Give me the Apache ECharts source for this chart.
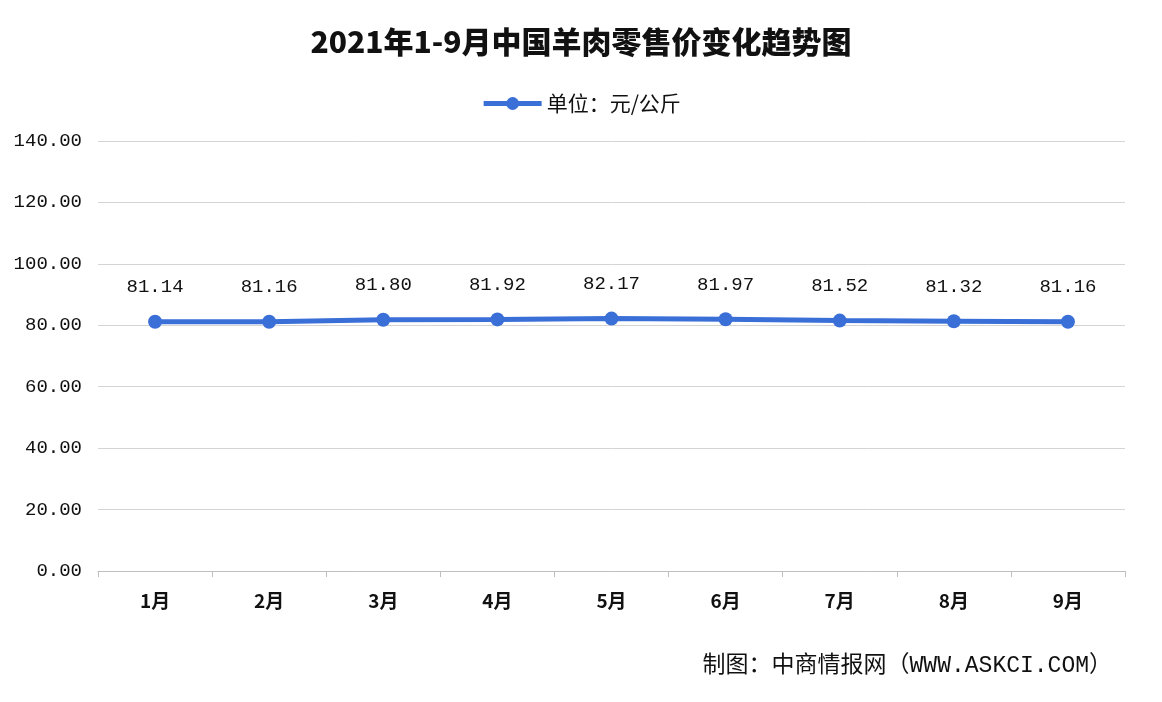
<!DOCTYPE html>
<html>
<head>
<meta charset="utf-8">
<script src="https://cdn.jsdelivr.net/npm/echarts@6/dist/echarts.min.js"></script>
<style>html,body{margin:0;padding:0;background:#fff}#c{width:1162px;height:702px}</style>
</head>
<body>
<div id="c"></div>
<script>
const categories = ['1月','2月','3月','4月','5月','6月','7月','8月','9月'];
const prices = [81.14, 81.16, 81.80, 81.92, 82.17, 81.97, 81.52, 81.32, 81.16];
const seriesName = '单位：元/公斤';
const titleText = '2021年1-9月中国羊肉零售价变化趋势图';
const sourceText = '制图：中商情报网（WWW.ASKCI.COM）';

const chart = echarts.init(document.getElementById('c'));
chart.setOption({
  backgroundColor: '#ffffff',
  animation: false,
  title: {
    text: titleText, left: 'center', top: 22,
    textStyle: {fontFamily: 'Noto Sans CJK SC', fontWeight: 900, fontSize: 30, color: '#111'}
  },
  legend: {
    top: 88, left: 'center', itemWidth: 58, itemHeight: 16, itemGap: 4,
    lineStyle: {width: 5},
    textStyle: {fontFamily: 'Noto Sans CJK SC', fontSize: 21, color: '#111'},
    data: [seriesName]
  },
  grid: {left: 98, right: 37, top: 141, bottom: 131, containLabel: false},
  xAxis: {
    type: 'category', data: categories, boundaryGap: true,
    axisLine: {lineStyle: {color: '#bfbfbf', width: 1}},
    axisTick: {show: true, lineStyle: {color: '#bfbfbf'}, length: 6},
    axisLabel: {margin: 20, fontFamily: 'Noto Sans CJK SC', fontWeight: 'bold', fontSize: 19, color: '#111'}
  },
  yAxis: {
    type: 'value', min: 0, max: 140, interval: 20,
    axisLine: {show: false}, axisTick: {show: false},
    splitLine: {lineStyle: {color: '#d4d4d4', width: 1}},
    axisLabel: {margin: 16, fontFamily: 'Liberation Mono', fontSize: 19, color: '#111',
      formatter: v => v.toFixed(2)}
  },
  series: [{
    name: seriesName, type: 'line', data: prices,
    symbol: 'circle', symbolSize: 14,
    lineStyle: {color: '#3a6fd8', width: 5},
    itemStyle: {color: '#3a6fd8'},
    label: {show: true, position: 'top', distance: 18,
      fontFamily: 'Liberation Mono', fontSize: 19, color: '#111',
      formatter: p => p.value.toFixed(2)}
  }],
  graphic: [{
    type: 'text', right: 50, top: 654,
    style: {text: sourceText, fontFamily: 'Liberation Mono, Noto Sans CJK SC', fontSize: 23, fill: '#111'}
  }]
});
</script>
</body>
</html>
